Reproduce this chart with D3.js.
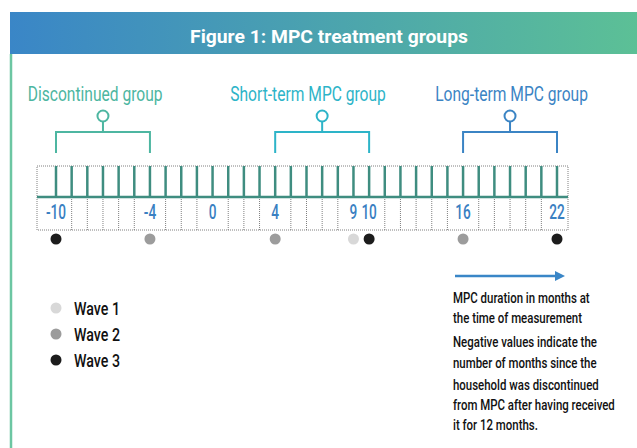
<!DOCTYPE html>
<html lang="en">
<head>
<meta charset="utf-8" />
<title>Figure 1: MPC treatment groups</title>
<script src="https://cdn.jsdelivr.net/npm/d3@7"></script>
<style>
    body { margin: 0; background: #fff; }
    text { font-family: Roboto, "Noto Sans", sans-serif; }
</style>
</head>
<body>
<svg width="637" height="448"></svg>
<script>
    // months shown on the timeline
    var monthDomain = [-10, 22];
    var tickLabels = [-10, -4, 0, 4, 9, 10, 16, 22];

    // treatment groups (bracket spans in months)
    var groupNames = ["Discontinued group", "Short-term MPC group", "Long-term MPC group"];
    var groupStart = [-10, 4, 16];
    var groupEnd = [-4, 10, 22];
    var groupLabelAt = [-7.5, 6.1, 19.1];
    var groupColors = ["#4db6a1", "#2db4c8", "#3b84c4"];

    // survey waves: month at time of measurement
    var waveNames = ["Wave 1", "Wave 2", "Wave 3"];
    var wave1 = [9];
    var wave2 = [-4, 4, 16];
    var wave3 = [-10, 10, 22];
    var waveColors = ["#d8d8d8", "#9c9c9c", "#1c1c1c"];

    var noteLines = [
        "MPC duration in months at",
        "the time of measurement",
        "Negative values indicate the",
        "number of months since the",
        "household was discontinued",
        "from MPC after having received",
        "it for 12 months."
    ];

    var svg = d3.select("svg");

    var x = d3.scaleLinear().domain(monthDomain).range([56, 557]);
    var months = d3.range(monthDomain[0], monthDomain[1] + 1);

    // the original face is condensed: squeeze text horizontally
    function squeeze(sel, px, py, k) {
        sel.attr("transform", "translate(" + px + "," + py + ") scale(" + k + ",1)");
        return sel;
    }

    // scale factor that makes a sample string reach a given width
    function fitFactor(sample, size, weight, width) {
        var t = svg.append("text").attr("font-size", size).attr("font-weight", weight).text(sample);
        var w = t.node().getComputedTextLength();
        t.remove();
        return width / w;
    }

    // title band
    var grad = svg.append("defs").append("linearGradient")
        .attr("id", "band").attr("x1", "0%").attr("x2", "100%");
    grad.append("stop").attr("offset", "0%").attr("stop-color", "#3a86c7");
    grad.append("stop").attr("offset", "100%").attr("stop-color", "#5cc096");

    svg.append("rect")
        .attr("x", 10).attr("y", 12)
        .attr("width", 627).attr("height", 42)
        .attr("fill", "url(#band)");

    var kTitle = fitFactor("Figure 1: MPC treatment groups", 19, "bold", 278);
    squeeze(svg.append("text"), 329, 43, kTitle)
        .attr("text-anchor", "middle")
        .attr("fill", "#fff")
        .attr("font-size", 19)
        .attr("font-weight", "bold")
        .text("Figure 1: MPC treatment groups");

    // left border of the panel
    svg.append("line")
        .attr("x1", 11).attr("x2", 11)
        .attr("y1", 54).attr("y2", 448)
        .attr("stroke", "#6cc6a2").attr("stroke-width", 2.5);

    // timeline grid
    var yTop = 166, yMid = 197, yBottom = 230;
    var xLeft = x(monthDomain[0]) - 19, xRight = x(monthDomain[1]) + 11;
    var grid = svg.append("g");

    grid.append("rect")
        .attr("x", xLeft).attr("y", yTop)
        .attr("width", xRight - xLeft).attr("height", yBottom - yTop)
        .attr("fill", "none")
        .attr("stroke", "#808080")
        .attr("stroke-width", 1)
        .attr("stroke-dasharray", "1,1");

    grid.selectAll("line.cell")
        .data(months.filter(function (m) { return tickLabels.indexOf(m) < 0; }))
        .enter().append("line")
            .attr("class", "cell")
            .attr("x1", function (d) { return x(d); })
            .attr("x2", function (d) { return x(d); })
            .attr("y1", yMid).attr("y2", yBottom)
            .attr("stroke", "#808080")
            .attr("stroke-width", 1)
            .attr("stroke-dasharray", "1,1");

    grid.selectAll("line.tick")
        .data(months)
        .enter().append("line")
            .attr("class", "tick")
            .attr("x1", function (d) { return x(d); })
            .attr("x2", function (d) { return x(d); })
            .attr("y1", yTop).attr("y2", yMid)
            .attr("stroke", "#3f8d80")
            .attr("stroke-width", 2.5);

    grid.append("line")
        .attr("x1", xLeft).attr("x2", xRight)
        .attr("y1", yMid).attr("y2", yMid)
        .attr("stroke", "#3f8d80")
        .attr("stroke-width", 2.5);

    var kTick = fitFactor("16", 19.5, 500, 15.5);
    grid.selectAll("text.lab")
        .data(tickLabels)
        .enter().append("text")
            .attr("class", "lab")
            .attr("text-anchor", "middle")
            .attr("fill", "#3a80c2")
            .attr("font-size", 19.5)
            .attr("font-weight", 500)
            .each(function (d) { squeeze(d3.select(this), x(d), 219, kTick); })
            .text(function (d) { return d; });

    // group brackets
    var brackets = svg.selectAll("g.group")
        .data(groupNames)
        .enter().append("g")
            .attr("class", "group");

    brackets.append("path")
        .attr("fill", "none")
        .attr("stroke", function (d, i) { return groupColors[i]; })
        .attr("stroke-width", 2)
        .attr("d", function (d, i) {
            var a = x(groupStart[i]), b = x(groupEnd[i]), c = (a + b) / 2;
            return "M" + a + ",153V132H" + b + "V153M" + c + ",132V122";
        });

    brackets.append("circle")
        .attr("cx", function (d, i) { return (x(groupStart[i]) + x(groupEnd[i])) / 2; })
        .attr("cy", 116)
        .attr("r", 5.5)
        .attr("fill", "#fff")
        .attr("stroke", function (d, i) { return groupColors[i]; })
        .attr("stroke-width", 2);

    var kGroup = fitFactor("Discontinued group", 20, "normal", 135);
    brackets.append("text")
        .attr("text-anchor", "middle")
        .attr("fill", function (d, i) { return groupColors[i]; })
        .attr("font-size", 20)
        .each(function (d, i) { squeeze(d3.select(this), x(groupLabelAt[i]), 101, kGroup); })
        .text(function (d) { return d; });

    // wave dots under the timeline
    var waves = [wave1, wave2, wave3];
    waves.forEach(function (w, i) {
        svg.selectAll("circle.w" + i)
            .data(w)
            .enter().append("circle")
                .attr("class", "w" + i)
                .attr("cx", function (d) { return x(d); })
                .attr("cy", 239)
                .attr("r", 5.5)
                .attr("fill", waveColors[i]);
    });

    // legend
    var legend = svg.append("g");
    var kLegend = fitFactor("Wave 1", 19, 500, 46);
    waveNames.forEach(function (name, i) {
        legend.append("circle")
            .attr("cx", 56).attr("cy", 308 + i * 26)
            .attr("r", 5.5)
            .attr("fill", waveColors[i]);
        squeeze(legend.append("text"), 74, 315 + i * 26, kLegend)
            .attr("fill", "#111")
            .attr("font-size", 19)
            .attr("font-weight", 500)
            .text(name);
    });

    // arrow and note
    svg.append("defs").append("marker")
        .attr("id", "head")
        .attr("viewBox", "0 0 10 10")
        .attr("refX", 0).attr("refY", 5)
        .attr("markerWidth", 4).attr("markerHeight", 4)
        .attr("orient", "auto")
        .append("path")
            .attr("d", "M0,0L10,5L0,10Z")
            .attr("fill", "#3a86c7");

    svg.append("line")
        .attr("x1", 455).attr("x2", 555)
        .attr("y1", 276).attr("y2", 276)
        .attr("stroke", "#3a86c7")
        .attr("stroke-width", 2.5)
        .attr("marker-end", "url(#head)");

    var lineY = [303, 323, 347, 368, 390, 410, 430];
    var kNote = fitFactor("from MPC after having received", 15, 500, 162);
    noteLines.forEach(function (t, i) {
        squeeze(svg.append("text"), 453, lineY[i], kNote)
            .attr("fill", "#111")
            .attr("font-size", 15)
            .attr("font-weight", 500)
            .text(t);
    });
</script>
</body>
</html>
